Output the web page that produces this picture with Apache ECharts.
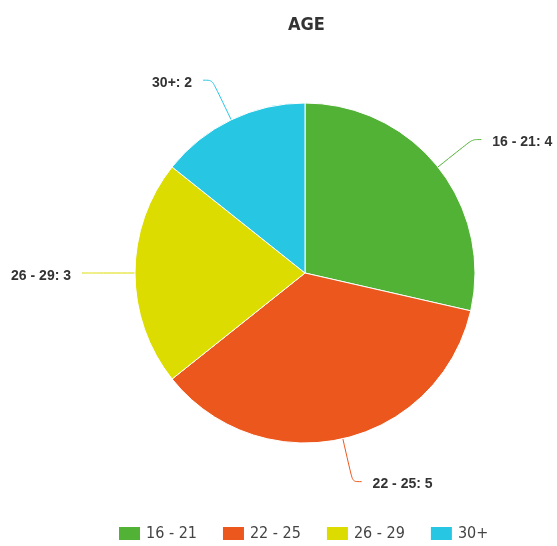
<!DOCTYPE html>
<html>
<head>
<meta charset="utf-8">
<script src="https://cdn.jsdelivr.net/npm/echarts@6/dist/echarts.min.js"></script>
<style>
html,body{margin:0;padding:0;background:#fff;}
#chart{width:557px;height:546px;}
</style>
</head>
<body>
<div id="chart"></div>
<script>
const categories = ['16 - 21', '22 - 25', '26 - 29', '30+'];
const values = [4, 5, 3, 2];
const colors = ['#52b235', '#ec571e', '#dcdc00', '#27c6e2'];
const titleText = 'AGE';

const chart = echarts.init(document.getElementById('chart'));
chart.setOption({
  animation: false,
  color: colors,
  title: {
    text: titleText,
    left: 283,
    top: 11,
    textStyle: {
      fontFamily: '"DejaVu Sans Condensed", "DejaVu Sans"',
      fontWeight: 'bold',
      fontSize: 18,
      color: '#333'
    }
  },
  legend: {
    top: 520,
    left: 112,
    itemWidth: 23,
    itemHeight: 15,
    itemGap: 24,
    icon: 'rect',
    textStyle: {
      fontFamily: '"Liberation Sans Narrow", "DejaVu Sans Condensed"',
      fontSize: 16,
      color: '#444'
    },
    data: categories
  },
  series: [{
    type: 'pie',
    center: [305, 273],
    radius: 170,
    startAngle: 90,
    clockwise: true,
    itemStyle: { borderColor: '#fff', borderWidth: 1 },
    label: {
      show: true,
      formatter: '{b}: {c}',
      fontFamily: '"Liberation Sans", Arial',
      fontWeight: 'bold',
      fontSize: 14,
      color: '#333',
      overflow: 'none',
      distanceToLabelLine: 11
    },
    labelLayout: { dy: 3 },
    labelLine: {
      show: true,
      length: 44,
      length2: 9,
      smooth: true,
      lineStyle: { width: 1 }
    },
    data: categories.map((c, i) => ({ name: c, value: values[i] }))
  }]
});
</script>
</body>
</html>
